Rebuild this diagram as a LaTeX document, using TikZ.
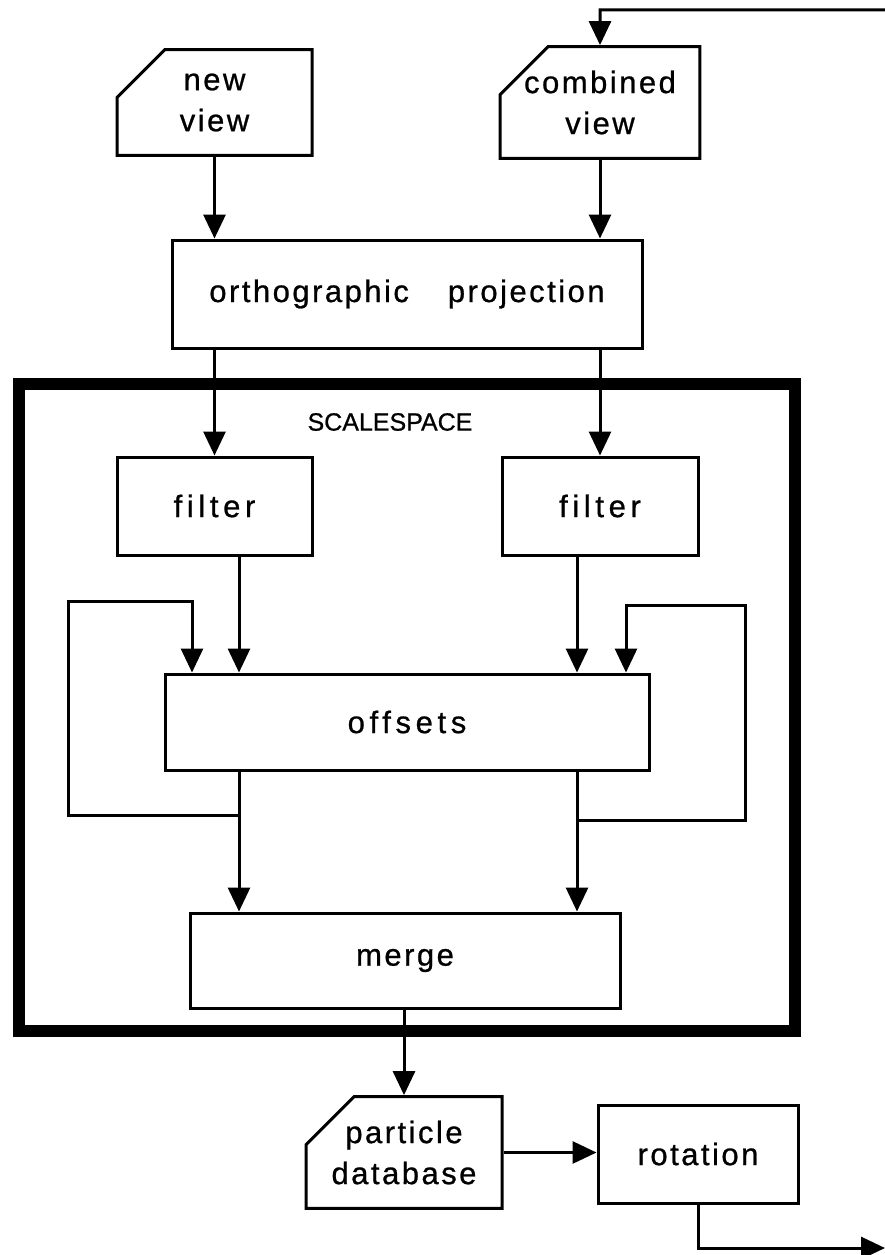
\documentclass[tikz,border=0pt]{standalone}
\usepackage{fontspec}
\setmainfont{Liberation Sans}[FakeBold=0.8]
\newfontfamily\boxfont[LetterSpace=8,FakeBold=0.8]{Liberation Sans}
\newfontfamily\widefont[LetterSpace=15,FakeBold=0.8]{Liberation Sans}
\usetikzlibrary{arrows.meta,shapes.misc}
\tikzset{bx/.style={draw,line width=3pt,inner sep=0pt,align=center,font=\boxfont\fontsize{31}{41}\selectfont}}
\tikzset{wd/.style={bx,font=\widefont\fontsize{31}{41}\selectfont}}
\tikzset{dc/.style={bx,chamfered rectangle,chamfered rectangle corners=north west,chamfered rectangle xsep=24pt,chamfered rectangle ysep=24pt}}
\tikzset{ar/.style={line width=3pt,-{Triangle[length=24pt,width=22pt]}}}

\begin{document}
\begin{tikzpicture}[x=1pt,y=-1pt]
                \useasboundingbox (0,0) rectangle (885,1255);
                % scalespace frame
                \node[draw,line width=12pt,minimum width=776pt,minimum height=647pt,inner sep=0pt] (ss) at (407,707.5) {};
                \node[font=\fontsize{25}{30}\selectfont] (sl) at (390,422) {SCALESPACE};
                % boxes
                \node[dc,minimum width=195pt,minimum height=95pt] (nv) at (214.5,102.5) {new\\view};
                \node[dc,minimum width=196pt,minimum height=95pt] (cv) at (600,102.5) {combined\\view};
                \node[bx,minimum width=470pt,minimum height=108pt] (op) at (407,294) {orthographic\hspace{0.9em} projection};
                \node[wd,minimum width=195pt,minimum height=98pt] (fl) at (214.5,506) {filter};
                \node[wd,minimum width=196pt,minimum height=98pt] (fr) at (600,506) {filter};
                \node[wd,minimum width=484pt,minimum height=96pt] (off) at (407,722) {offsets};
                \node[bx,minimum width=430pt,minimum height=95pt] (mg) at (405,960.5) {merge};
                \node[dc,minimum width=196pt,minimum height=99pt] (pd) at (404,1152.5) {particle\\database};
                \node[bx,minimum width=200pt,minimum height=98pt] (rot) at (698,1154) {rotation};
                % loop corners and the two open ends
                \coordinate (fbt) at (885,10);
                \coordinate (fbb) at (885,1248);
                \coordinate (jl) at (239,815);
                \coordinate (jr) at (577,820);
                \coordinate (ll) at (68,601);
                \coordinate (lt) at (192,601);
                \coordinate (rr) at (745,605);
                \coordinate (rt) at (626,605);
                % connectors
                \draw[ar] (fbt) -- (fbt -| cv) -- (cv);
                \draw[ar] (nv) -- (nv |- op.north);
                \draw[ar] (cv) -- (cv |- op.north);
                \draw[ar] (op.south -| fl) -- (fl);
                \draw[ar] (op.south -| fr) -- (fr);
                \draw[ar] (fl.south -| jl) -- (off.north -| jl);
                \draw[ar] (fr.south -| jr) -- (off.north -| jr);
                \draw[ar] (off.south -| jl) -- (mg.north -| jl);
                \draw[ar] (off.south -| jr) -- (mg.north -| jr);
                \draw[ar] (jl) -- (jl -| ll) -- (ll) -- (lt) -- (lt |- off.north);
                \draw[ar] (jr) -- (jr -| rr) -- (rr) -- (rt) -- (rt |- off.north);
                \draw[ar] (mg.south -| pd) -- (pd);
                \draw[ar] (pd.east) -- (pd.east -| rot.west);
                \draw[ar] (rot) -- (rot |- fbb) -- (fbb);
            \end{tikzpicture}
\end{document}
